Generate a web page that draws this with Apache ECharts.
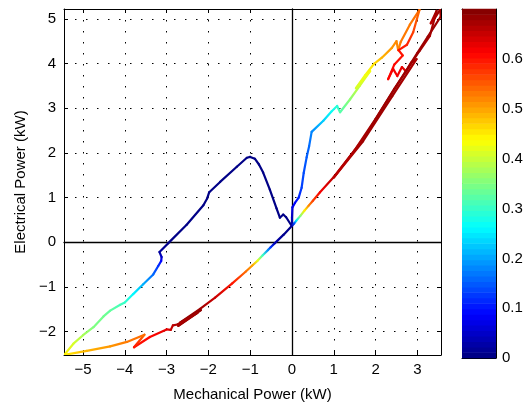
<!DOCTYPE html>
<html><head><meta charset="utf-8">
<script src="https://cdn.jsdelivr.net/npm/echarts@6/dist/echarts.min.js"></script>
<style>html,body{margin:0;padding:0;background:#fff}#c{width:527px;height:407px}</style>
</head><body><div id="c"></div><script>
// ---- axis ticks / limits ----
const xTicks = [-5, -4, -3, -2, -1, 0, 1, 2, 3];
const yTicks = [-2, -1, 0, 1, 2, 3, 4, 5];
const cTicks = [0, 0.1, 0.2, 0.3, 0.4, 0.5, 0.6];
const xLim = [-5.455, 3.565];
const yLim = [-2.523, 5.22];
const cLim = [0, 0.701];

// ---- right loop (mechanical power >= 0 side) ----
const rightX = [0.00,0.00,0.01,0.07,0.16,0.23,0.28,0.35,0.41,0.47,0.75,0.95,1.08,1.15,1.39,1.62,1.87,1.53,1.75,1.97,2.15,2.39,2.50,2.54,2.60,2.82,3.05,2.90,2.75,2.55,2.65,2.45,2.30,2.42,2.52,2.63,2.73,2.85,2.98,2.40,1.70,1.00,1.75,2.45,3.05,3.30,3.46,3.32,3.42,3.54,3.56,3.25,3.00,2.50,2.00,1.50,1.00,0.67,0.50,0.40,0.30,0.20,0.10,0.05,0.00];
const rightY = [0.37,0.55,0.78,0.88,1.00,1.22,1.55,1.90,2.15,2.47,2.72,2.93,3.05,2.91,3.20,3.50,3.83,3.45,3.74,4.00,4.13,4.35,4.50,4.30,4.48,4.87,5.20,4.70,4.42,4.30,4.18,3.98,3.65,3.88,3.72,3.92,3.82,4.02,4.10,3.27,2.26,1.45,2.37,3.44,4.28,4.62,5.18,4.90,5.02,5.20,5.05,4.60,4.24,3.50,2.76,2.06,1.46,1.12,0.93,0.82,0.71,0.59,0.48,0.42,0.37];
const rightC = [0.01,0.04,0.07,0.09,0.11,0.13,0.14,0.15,0.16,0.18,0.23,0.27,0.29,0.32,0.36,0.40,0.43,0.41,0.43,0.46,0.49,0.51,0.52,0.52,0.53,0.53,0.54,0.57,0.59,0.60,0.60,0.61,0.61,0.62,0.62,0.63,0.64,0.65,0.67,0.68,0.68,0.66,0.68,0.68,0.68,0.67,0.68,0.66,0.67,0.68,0.68,0.68,0.68,0.68,0.68,0.67,0.66,0.62,0.57,0.52,0.45,0.36,0.25,0.14,0.03];

// ---- left loop (mechanical power <= 0 side) ----
const leftX = [0.00,-0.20,-0.41,-0.51,-0.57,-0.70,-0.82,-0.95,-1.11,-1.43,-1.84,-2.20,-2.68,-2.18,-2.72,-2.26,-2.74,-2.85,-2.90,-3.00,-3.40,-3.78,-3.53,-3.95,-4.35,-4.91,-5.45,-5.23,-5.00,-4.75,-4.51,-4.35,-4.11,-4.00,-3.80,-3.56,-3.32,-3.20,-3.13,-3.12,-3.17,-2.96,-2.52,-2.12,-2.03,-1.98,-1.72,-1.32,-1.08,-1.00,-0.89,-0.79,-0.69,-0.53,-0.37,-0.29,-0.21,-0.14,-0.01];
const leftY = [0.37,0.17,-0.02,-0.11,-0.17,-0.29,-0.41,-0.52,-0.66,-0.92,-1.24,-1.49,-1.80,-1.52,-1.87,-1.58,-1.84,-1.86,-1.96,-1.95,-2.12,-2.35,-2.07,-2.23,-2.33,-2.43,-2.52,-2.27,-2.08,-1.90,-1.66,-1.53,-1.40,-1.35,-1.16,-0.94,-0.72,-0.53,-0.42,-0.33,-0.22,-0.02,0.39,0.83,0.98,1.12,1.35,1.69,1.89,1.91,1.87,1.74,1.56,1.18,0.76,0.55,0.62,0.56,0.37];
const leftC = [0.01,0.01,0.03,0.12,0.18,0.30,0.42,0.50,0.54,0.60,0.65,0.68,0.69,0.69,0.68,0.68,0.67,0.66,0.65,0.63,0.61,0.60,0.54,0.53,0.51,0.49,0.45,0.41,0.38,0.35,0.34,0.33,0.31,0.30,0.26,0.21,0.16,0.12,0.09,0.05,0.02,0.005,0.005,0.005,0.005,0.005,0.005,0.005,0.005,0.005,0.005,0.005,0.005,0.005,0.005,0.005,0.005,0.005,0.005];

const FONT = 'Liberation Sans, Arial, Helvetica, sans-serif';

function jet(v) {
  const t = Math.min(1, Math.max(0, (v - cLim[0]) / (cLim[1] - cLim[0])));
  const f = x => Math.round(255 * Math.min(1, Math.max(0, x)));
  return 'rgb(' + f(1.5 - Math.abs(4 * t - 3)) + ',' + f(1.5 - Math.abs(4 * t - 2)) + ',' + f(1.5 - Math.abs(4 * t - 1)) + ')';
}
function segs(xs, ys, cs) {
  const out = [];
  for (let i = 0; i < xs.length - 1; i++) out.push([xs[i], ys[i], xs[i + 1], ys[i + 1], cs[i], cs[i + 1]]);
  return out;
}
const segData = segs(leftX, leftY, leftC).concat(segs(rightX, rightY, rightC));
const nBands = 64;
const bandData = [];
for (let i = 0; i < nBands; i++) bandData.push([i]);

const fmt = v => (v < 0 ? '\u2212' + Math.abs(v) : String(v));

const baseX = { type: 'value', min: xLim[0], max: xLim[1], gridIndex: 0,
  axisLine: { onZero: false, lineStyle: { color: '#000', width: 1 } },
  axisTick: { inside: true, length: 4, customValues: xTicks, lineStyle: { color: '#000' } },
  splitLine: { show: false }, axisLabel: { show: false } };
const baseY = { type: 'value', min: yLim[0], max: yLim[1], gridIndex: 0,
  axisLine: { onZero: false, lineStyle: { color: '#000', width: 1 } },
  axisTick: { inside: true, length: 4, customValues: yTicks, lineStyle: { color: '#000' } },
  splitLine: { show: false }, axisLabel: { show: false } };
const dotted = { show: true, lineStyle: { color: '#000', width: 1, type: [1.5, 9.5] } };
const lblStyle = { color: '#000', fontSize: 15, fontFamily: FONT };

const chart = echarts.init(document.getElementById('c'), null, { renderer: 'canvas' });
chart.setOption({
  animation: false,
  backgroundColor: '#fff',
  grid: [
    { left: 64, top: 9, width: 377, height: 349 },
    { left: 462, top: 9, width: 34, height: 349 }
  ],
  xAxis: [
    Object.assign({}, baseX, { position: 'bottom', splitLine: dotted,
      axisLabel: Object.assign({ customValues: xTicks, formatter: fmt, margin: 7 }, lblStyle),
      name: 'Mechanical Power (kW)', nameLocation: 'middle', nameGap: 32, nameTextStyle: lblStyle }),
    Object.assign({}, baseX, { position: 'top' }),
    Object.assign({}, baseX, { position: 'bottom', axisLine: { onZero: true, onZeroAxisIndex: 0, lineStyle: { color: '#000', width: 1.3 } }, axisTick: { show: false } }),
    { type: 'value', gridIndex: 1, min: 0, max: 1, position: 'bottom', axisLine: { onZero: false, lineStyle: { color: '#000' } }, axisTick: { show: false }, axisLabel: { show: false }, splitLine: { show: false } },
    { type: 'value', gridIndex: 1, min: 0, max: 1, position: 'top', axisLine: { onZero: false, lineStyle: { color: '#000' } }, axisTick: { show: false }, axisLabel: { show: false }, splitLine: { show: false } }
  ],
  yAxis: [
    Object.assign({}, baseY, { position: 'left', splitLine: dotted,
      axisLabel: Object.assign({ customValues: yTicks, formatter: fmt, margin: 8 }, lblStyle),
      name: 'Electrical Power (kW)', nameLocation: 'middle', nameGap: 35, nameTextStyle: lblStyle }),
    Object.assign({}, baseY, { position: 'right' }),
    Object.assign({}, baseY, { position: 'left', axisLine: { onZero: true, onZeroAxisIndex: 0, lineStyle: { color: '#000', width: 1.3 } }, axisTick: { show: false } }),
    { type: 'value', gridIndex: 1, min: cLim[0], max: cLim[1], position: 'right',
      axisLine: { onZero: false, lineStyle: { color: '#000' } },
      axisTick: { inside: true, length: 3, customValues: cTicks, lineStyle: { color: '#000' } },
      axisLabel: Object.assign({ customValues: cTicks, margin: 6 }, lblStyle), splitLine: { show: false } },
    { type: 'value', gridIndex: 1, min: cLim[0], max: cLim[1], position: 'left',
      axisLine: { onZero: false, lineStyle: { color: '#000' } },
      axisTick: { inside: true, length: 3, customValues: cTicks, lineStyle: { color: '#000' } },
      axisLabel: { show: false }, splitLine: { show: false } }
  ],
  series: [
    {
      type: 'custom', xAxisIndex: 0, yAxisIndex: 0, clip: true, silent: true,
      encode: { x: [0, 2], y: [1, 3] },
      data: segData,
      renderItem: function (params, api) {
        const p1 = api.coord([api.value(0), api.value(1)]);
        const p2 = api.coord([api.value(2), api.value(3)]);
        const c1 = api.value(4), c2 = api.value(5);
        let stroke = jet((c1 + c2) / 2);
        if (Math.hypot(p2[0] - p1[0], p2[1] - p1[1]) > 0.5 && c1 !== c2) {
          stroke = new echarts.graphic.LinearGradient(p1[0], p1[1], p2[0], p2[1],
            [{ offset: 0, color: jet(c1) }, { offset: 1, color: jet(c2) }], true);
        }
        return { type: 'line', shape: { x1: p1[0], y1: p1[1], x2: p2[0], y2: p2[1] },
          style: { stroke: stroke, lineWidth: 2.2, lineCap: 'round', fill: null } };
      }
    },
    {
      type: 'custom', xAxisIndex: 3, yAxisIndex: 3, silent: true,
      encode: { y: 0 },
      data: bandData,
      renderItem: function (params, api) {
        const i = api.value(0);
        const lo = cLim[0] + (cLim[1] - cLim[0]) * i / nBands;
        const hi = cLim[0] + (cLim[1] - cLim[0]) * (i + 1) / nBands;
        const a = api.coord([0, lo]);
        const b = api.coord([1, hi]);
        return { type: 'rect', shape: { x: a[0], y: b[1] - 0.3, width: b[0] - a[0], height: a[1] - b[1] + 0.6 },
          style: { fill: jet((lo + hi) / 2) }, z2: -1 };
      }
    }
  ]
});
</script></body></html>
